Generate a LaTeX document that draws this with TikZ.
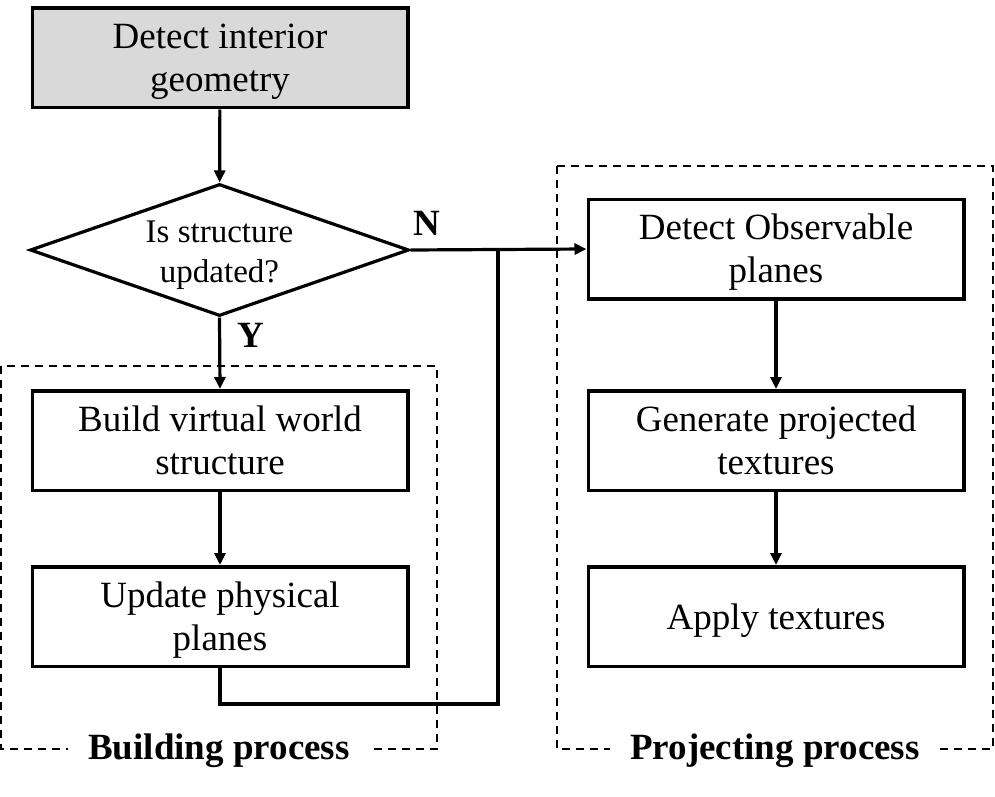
\documentclass[tikz,border=0pt]{standalone}
\usepackage{fontspec}
\setmainfont{Liberation Serif}
\usetikzlibrary{shapes.geometric,arrows.meta}
\definecolor{boxgray}{HTML}{D9D9D9}
\begin{document}
\begin{tikzpicture}[x=1pt,y=-1pt,
 box/.style={draw,line width=3.5pt,minimum width=375.5pt,minimum height=99.5pt,align=flush center,inner sep=0pt,
   text width=370pt,text height=25pt,text depth=44pt,font=\fontsize{37}{43}\selectfont},
 box1/.style={box,text depth=0pt},
 dec/.style={draw,diamond,line width=3.2pt,minimum width=379pt,minimum height=132pt,aspect=2.87,inner sep=0pt,align=flush center,
   text width=170pt,text height=22pt,text depth=38pt,font=\fontsize{33}{40}\selectfont},
 arr/.style={line width=3.2pt,-{Triangle[length=12pt,width=11pt]}},
 conn/.style={line width=3.2pt},
 grp/.style={draw,line width=2pt,dash pattern=on 8pt off 6pt},
 grplbl/.style={fill=white,inner xsep=20pt,inner ysep=2pt,font=\fontsize{37}{44}\selectfont\bfseries},
 yn/.style={font=\fontsize{37}{44}\selectfont\bfseries}]
\useasboundingbox (0,0) rectangle (995,797);
% groups
\draw[grp] (1,366) rectangle (437,749);
\draw[grp] (557,166) rectangle (993,749);
\node[grplbl] (bp) at (219,751) {Building process};
\node[grplbl] (pp) at (775,751) {Projecting process};
% nodes
\node[box,fill=boxgray] (top) at (220,58) {Detect interior\\geometry};
\node[dec] (dec) at (219.5,250) {Is structure\\updated?};
\node[box] (build) at (220,440.5) {Build virtual world\\structure};
\node[box] (upd) at (220,616.5) {Update physical\\planes};
\node[box] (obs) at (776,249) {Detect Observable\\planes};
\node[box] (gen) at (776,440.5) {Generate projected\\textures};
\node[box1] (app) at (776,616.5) {Apply textures};
% connectors
\draw[arr] (top) -- (dec);
\draw[arr] (dec.south) -- (build.north);
\draw[arr] (dec.east) -- (obs.west);
\coordinate (jb) at (498,704);
\coordinate (jt) at (498,250);
\draw[conn] (upd.south) |- (jb) -- (jt);
\draw[arr] (build) -- (upd);
\draw[arr] (obs) -- (gen);
\draw[arr] (gen) -- (app);
% labels
\node[yn] (ylbl) at (251,335) {Y};
\node[yn] (nlbl) at (427,223) {N};
\end{tikzpicture}
\end{document}
